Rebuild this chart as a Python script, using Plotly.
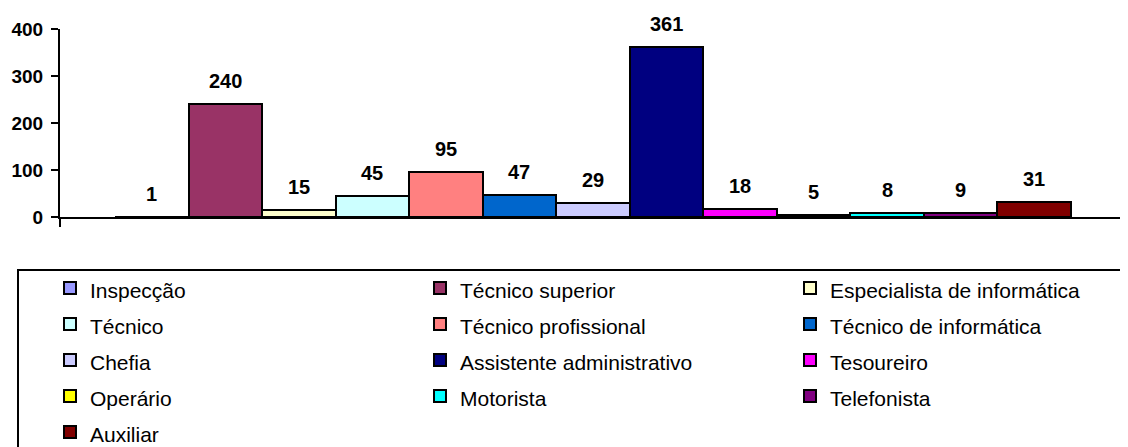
import plotly.graph_objects as go

categories = ["Inspecção", "Técnico superior", "Especialista de informática", "Técnico",
              "Técnico profissional", "Técnico de informática", "Chefia",
              "Assistente administrativo", "Tesoureiro", "Operário", "Motorista",
              "Telefonista", "Auxiliar"]
values = [1, 240, 15, 45, 95, 47, 29, 361, 18, 5, 8, 9, 31]
colors = ["#9999FF", "#993366", "#FFFFCC", "#CCFFFF", "#FF8080", "#0066CC", "#CCCCFF",
          "#000080", "#FF00FF", "#FFFF00", "#00FFFF", "#800080", "#800000"]
y_ticks = [0, 100, 200, 300, 400]

FONT = "Arial, 'Liberation Sans', sans-serif"

# page has an 8px body margin, so the figure is sized to the visible window
W, H = 1120, 439
ml, mr, mt, mb = 52, 2, 21, 230
pw, ph = W - ml - mr, H - mt - mb
plot_bottom = H - mb

def px_x(fx):  # figure px -> paper x
    return (fx - ml) / pw

def px_y(fy):  # figure px -> paper y
    return (plot_bottom - fy) / ph

fig = go.Figure()
for cat, val, col in zip(categories, values, colors):
    fig.add_trace(go.Bar(
        x=[cat], y=[val], name=f'<span style="font-size:21px">{cat}</span>',
        marker=dict(color=col, line=dict(color="black", width=2)),
        hoverinfo="x+y",
    ))
    fig.add_annotation(x=cat, y=val, text=f"<b>{val}</b>", showarrow=False,
                       yshift=23, font=dict(family=FONT, size=20, color="black"))

n = len(categories)
fig.update_layout(
    width=W, height=H,
    margin=dict(l=ml, r=mr, t=mt, b=mb, autoexpand=False),
    paper_bgcolor="white", plot_bgcolor="white",
    barmode="overlay", bargap=0,
    font=dict(family=FONT, color="black"),
    showlegend=True,
    legend=dict(
        orientation="h",
        x=px_x(42), xanchor="left",
        y=px_y(257), yanchor="top",
        borderwidth=0, bgcolor="rgba(0,0,0,0)",
        font=dict(family=FONT, size=25.4, color="black"),
        entrywidth=325, entrywidthmode="pixels",
        traceorder="normal",
    ),
    xaxis=dict(
        type="category", categoryorder="array", categoryarray=categories,
        range=[-1.25, n - 1 + 1.25],
        showticklabels=False, ticks="", showgrid=False, zeroline=False,
        showline=True, linecolor="black", linewidth=2, fixedrange=True,
    ),
    yaxis=dict(
        range=[0, 400], tickvals=y_ticks, ticks="outside", ticklen=7, tickwidth=2,
        tickcolor="black", showgrid=False, zeroline=False,
        showline=True, linecolor="black", linewidth=2, ticklabelstandoff=4,
        tickfont=dict(family=FONT, size=19, color="black", weight="bold"),
    ),
)
# category-boundary tick marks below the axis (left and right ends)
for xp in (0, 1):
    fig.add_shape(type="line", xref="paper", yref="paper", x0=xp, x1=xp,
                  y0=0, y1=-10 / ph, line=dict(color="black", width=2))
# legend frame (runs off the right and bottom edges, as in the original)
fig.add_shape(type="rect", xref="paper", yref="paper",
              x0=px_x(10), x1=px_x(W + 40), y0=px_y(262), y1=px_y(H + 40),
              line=dict(color="black", width=2), fillcolor="rgba(0,0,0,0)", layer="below")

fig.write_html("out.html")
